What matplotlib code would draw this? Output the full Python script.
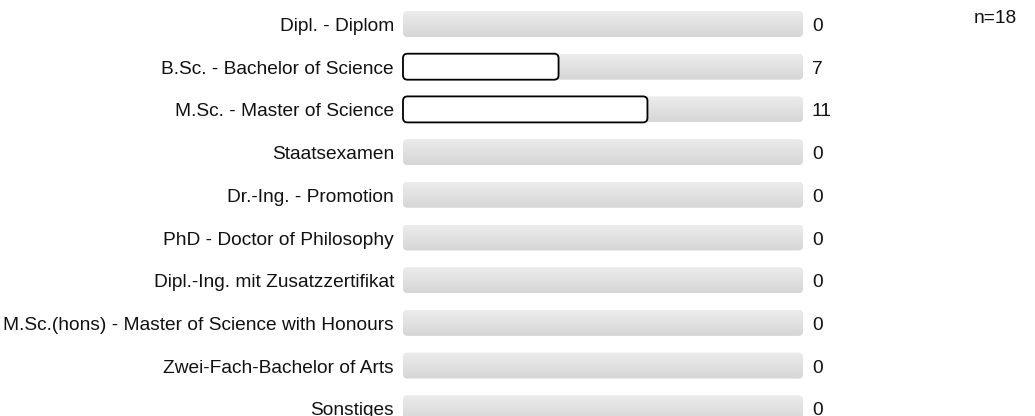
import numpy as np
import matplotlib
matplotlib.use("Agg")
import matplotlib.pyplot as plt
from matplotlib.patches import FancyBboxPatch
from matplotlib.colors import LinearSegmentedColormap

plt.rcParams["font.family"] = ["Liberation Sans", "DejaVu Sans"]

CATEGORIES = [
    "Dipl. - Diplom",
    "B.Sc. - Bachelor of Science",
    "M.Sc. - Master of Science",
    "Staatsexamen",
    "Dr.-Ing. - Promotion",
    "PhD - Doctor of Philosophy",
    "Dipl.-Ing. mit Zusatzzertifikat",
    "M.Sc.(hons) - Master of Science with Honours",
    "Zwei-Fach-Bachelor of Arts",
    "Sonstiges",
]
COUNTS = [0, 7, 11, 0, 0, 0, 0, 0, 0, 0]
N_TOTAL = 18

W, H = 1035, 416
FS = 13.8
fig = plt.figure(figsize=(W / 100, H / 100), dpi=100)
# bar track spans pixel 403..803, rows centered at 24 + i*42.7
ax = fig.add_axes([403 / W, 0, 400 / W, 1])
row_px = 42.7
top_px = 24
ax.set_xlim(0, N_TOTAL)
ax.set_ylim((H - top_px) / row_px, -top_px / row_px)
ax.axis("off")

px_x = 400 / N_TOTAL
aspect = px_x / row_px
rad = 4.5 / px_x
bar_h = 26 / row_px
base_off = 7 / row_px  # baseline sits half a cap height below row center

gray = LinearSegmentedColormap.from_list("track", ["#ececec", "#d6d6d6"])
grad = np.linspace(0, 1, 64).reshape(-1, 1)

for i, (cat, v) in enumerate(zip(CATEGORIES, COUNTS)):
    y0 = i - bar_h / 2
    track = FancyBboxPatch((0, y0), N_TOTAL, bar_h,
                           boxstyle=f"round,pad=0,rounding_size={rad}",
                           mutation_aspect=aspect, facecolor="none",
                           edgecolor="none", clip_on=False)
    ax.add_patch(track)
    im = ax.imshow(grad, cmap=gray, aspect="auto",
                   extent=(0, N_TOTAL, y0 + bar_h, y0), zorder=1)
    im.set_clip_path(track)
    if v > 0:
        ax.add_patch(FancyBboxPatch((0, y0), v, bar_h,
                                    boxstyle=f"round,pad=0,rounding_size={rad}",
                                    mutation_aspect=aspect, facecolor="white",
                                    edgecolor="black", linewidth=1.3, zorder=3,
                                    clip_on=False))
    ax.text(-9 / px_x, i + base_off, cat, ha="right", va="baseline",
            fontsize=FS, color="#111111", clip_on=False)
    ax.text(N_TOTAL + 9 / px_x, i + base_off, str(v), ha="left",
            va="baseline", fontsize=FS, color="#111111", clip_on=False)

ax.set_xlim(0, N_TOTAL)
ax.set_ylim((H - top_px) / row_px, -top_px / row_px)

fig.text(1017 / W, 1 - 23 / H, f"n={N_TOTAL}", ha="right", va="baseline",
         fontsize=FS, color="#111111")

fig.savefig("out.png", dpi=100)
